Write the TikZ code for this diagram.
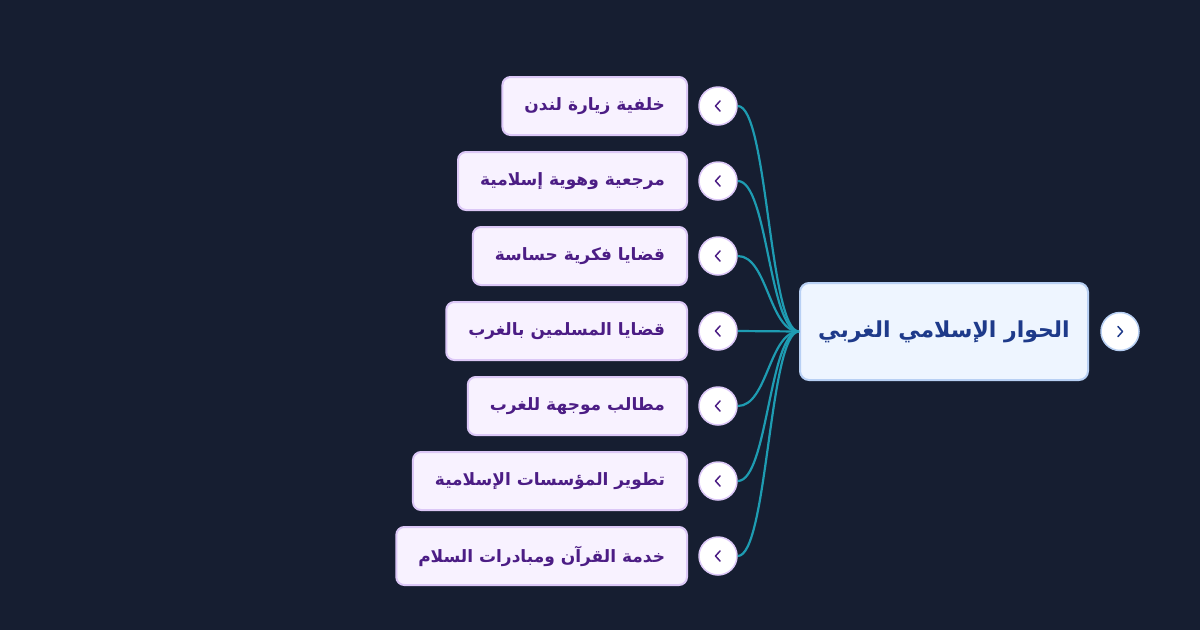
\documentclass[tikz,border=0pt]{standalone}
\usepackage{fontspec}
\newfontfamily\arabicfont[Script=Arabic]{DejaVu Sans}
\TeXXeTstate=1
\definecolor{bgcol}{HTML}{161E31}
\definecolor{topicfill}{HTML}{F8F2FF}
\definecolor{topicdraw}{HTML}{DCC8F7}
\definecolor{topictext}{HTML}{4C1D85}
\definecolor{rootfill}{HTML}{EEF5FF}
\definecolor{rootdraw}{HTML}{B8D0F4}
\definecolor{roottext}{HTML}{1E3A8A}
\definecolor{linkcol}{HTML}{1E9CB2}
\tikzset{
    topicbox/.style={
        draw=topicdraw, fill=topicfill, line width=2pt, rounded corners=8pt,
        inner xsep=22pt, minimum height=58pt, anchor=east,
        text=topictext, font=\arabicfont\bfseries\fontsize{17}{20}\selectfont
    },
    rootbox/.style={
        draw=rootdraw, fill=rootfill, line width=2pt, rounded corners=9pt,
        minimum width=288pt, minimum height=97pt,
        text=roottext, font=\arabicfont\bfseries\fontsize{22}{26}\selectfont
    },
    toggle/.style={
        circle, fill=white, draw=#1, line width=1.5pt, minimum size=38pt, inner sep=0pt
    },
    link/.style={draw=linkcol, line width=2.2pt}
}

\begin{document}
\begin{tikzpicture}[x=1pt, y=-1pt]

	\fill[bgcol] (0,0) rectangle (1200,630);
	\useasboundingbox (0,0) rectangle (1200,630);

	\def\boxright{688}
	\def\togglex{718}
	\def\ytop{106}
	\def\ystep{75}

		\node[rootbox] (root) at (944, 331.5) {\beginR الحوار الإسلامي الغربي\endR};
		\node[toggle=rootdraw] (roottoggle) at (1120, 331.5) {};
		\draw[roottext, line width=1.5pt, line cap=round, line join=round] ([xshift=-2pt, yshift=-5pt]roottoggle.center) -- ([xshift=2.5pt]roottoggle.center) -- ([xshift=-2pt, yshift=5pt]roottoggle.center);

		\foreach \i/\txt in {1/{خلفية زيارة لندن}, 2/{مرجعية وهوية إسلامية}, 3/{قضايا فكرية حساسة}, 4/{قضايا المسلمين بالغرب}, 5/{مطالب موجهة للغرب}, 6/{تطوير المؤسسات الإسلامية}, 7/{خدمة القرآن ومبادرات السلام}} {
			\node[topicbox] (topic\i) at (\boxright, \ytop+\ystep*\i-\ystep) {\beginR\txt\endR};
			\node[toggle=topicdraw] (toggle\i) at (\togglex, \ytop+\ystep*\i-\ystep) {};
			\draw[topictext, line width=1.5pt, line cap=round, line join=round] ([xshift=2pt, yshift=-5pt]toggle\i.center) -- ([xshift=-2.5pt]toggle\i.center) -- ([xshift=2pt, yshift=5pt]toggle\i.center);
			\draw[link] (toggle\i.east) .. controls +(30,0) and +(-30,0) .. (root.west);
		}

\end{tikzpicture}
\end{document}
